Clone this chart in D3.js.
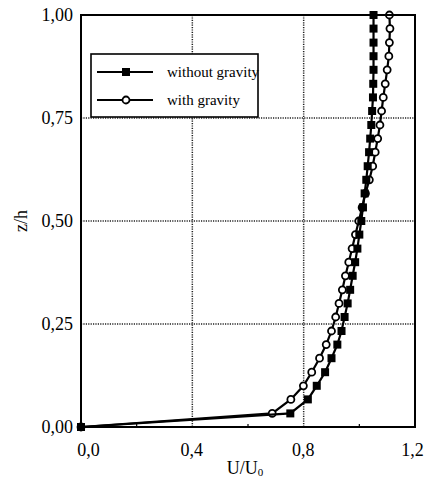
<!DOCTYPE html>
<html>
<head>
<meta charset="utf-8">
<script src="https://cdn.jsdelivr.net/npm/d3@7"></script>
<style>
  body { margin: 0; background: #fff; }
  svg text { font-family: "Liberation Serif", "DejaVu Serif", serif !important; fill: #000; }
</style>
</head>
<body>
<svg id="chart" width="427" height="478"></svg>
<script>
// Dimensionless height z/h of each measurement level
const heights = [0, 0.033, 0.067, 0.1, 0.133, 0.167, 0.2, 0.233, 0.267, 0.3,
                 0.333, 0.367, 0.4, 0.433, 0.467, 0.5, 0.533, 0.567, 0.6, 0.633,
                 0.667, 0.7, 0.733, 0.767, 0.8, 0.833, 0.867, 0.9, 0.933, 0.967, 1.0];

// Normalised velocity U/U0 at each level
const withoutGravity = [0, 0.752, 0.815, 0.847, 0.877, 0.900, 0.921, 0.936, 0.947, 0.958,
                        0.967, 0.976, 0.985, 0.993, 1.000, 1.007, 1.013, 1.019, 1.025, 1.030,
                        1.035, 1.039, 1.043, 1.046, 1.049, 1.050, 1.051, 1.051, 1.051, 1.051, 1.051];
const withGravity = [0, 0.687, 0.754, 0.799, 0.829, 0.857, 0.881, 0.900, 0.915, 0.927,
                     0.939, 0.950, 0.962, 0.974, 0.986, 0.998, 1.010, 1.022, 1.036, 1.048,
                     1.057, 1.066, 1.074, 1.080, 1.086, 1.093, 1.100, 1.106, 1.108, 1.110, 1.108];

const seriesNames = ["without gravity", "with gravity"];
const xTicks = [0, 0.4, 0.8, 1.2];
const yTicks = [0, 0.25, 0.5, 0.75, 1.0];
const xGrid = [0.4, 0.8];
const yGrid = [0.25, 0.5, 0.75];
const xMinor = [0.2, 0.6, 1.0];

const FONT = "'Liberation Serif', 'DejaVu Serif', serif";
const svg = d3.select("#chart");
const plotL = 81, plotR = 415, plotT = 15, plotB = 427;

const x = d3.scaleLinear().domain([0, 1.2]).range([plotL, plotR]);
const y = d3.scaleLinear().domain([0, 1]).range([plotB, plotT]);

const comma = f => v => d3.format(f)(v).replace(".", ",");

// Dotted grid
const grid = svg.append("g").attr("stroke", "#222").attr("stroke-width", 1.5)
  .attr("stroke-dasharray", "1.2,1.2");
grid.selectAll("line.v").data(xGrid).join("line").attr("class", "v")
  .attr("x1", d => x(d)).attr("x2", d => x(d)).attr("y1", plotT).attr("y2", plotB);
grid.selectAll("line.h").data(yGrid).join("line").attr("class", "h")
  .attr("y1", d => y(d)).attr("y2", d => y(d)).attr("x1", plotL).attr("x2", plotR);

// Minor ticks along the bottom, pointing inward
svg.append("g").selectAll("line").data(xMinor).join("line")
  .attr("x1", d => x(d)).attr("x2", d => x(d))
  .attr("y1", plotB).attr("y2", plotB - 3)
  .attr("stroke", "#000").attr("stroke-width", 1.2);

// Axes (labels only; frame drawn separately)
const xAxis = svg.append("g").attr("transform", `translate(0,${plotB})`)
  .call(d3.axisBottom(x).tickValues(xTicks).tickSize(0).tickPadding(16).tickFormat(comma(".1f")));
xAxis.attr("font-family", FONT);
xAxis.select(".domain").remove();
xAxis.selectAll("text").attr("font-size", 18).attr("font-family", FONT)
  .attr("dx", (d, i) => i === 0 ? 7 : (i === xTicks.length - 1 ? -3 : -1));

const yAxis = svg.append("g").attr("transform", `translate(${plotL},0)`)
  .call(d3.axisLeft(y).tickValues(yTicks).tickSize(0).tickPadding(8).tickFormat(comma(".2f")));
yAxis.attr("font-family", FONT);
yAxis.select(".domain").remove();
yAxis.selectAll("text").attr("font-size", 18).attr("font-family", FONT);

// Axis titles
const title = svg.append("text").attr("x", 245).attr("y", 474)
  .attr("text-anchor", "middle").attr("font-size", 18).attr("font-family", FONT);
title.append("tspan").text("U/U");
title.append("tspan").text("0").attr("font-size", 11).attr("dy", 2);

svg.append("text").attr("transform", "translate(27,221) rotate(-90)")
  .attr("text-anchor", "middle").attr("font-size", 18).attr("font-family", FONT).text("z/h");

// Profiles
const line = d3.line().x(d => x(d[0])).y(d => y(d[1]));
const ptsWith = withGravity.map((u, i) => [u, heights[i]]);
const ptsWithout = withoutGravity.map((u, i) => [u, heights[i]]);

svg.append("path").datum(ptsWith).attr("d", line)
  .attr("fill", "none").attr("stroke", "#000").attr("stroke-width", 2.2);
svg.append("g").selectAll("circle").data(ptsWith).join("circle")
  .attr("cx", d => x(d[0])).attr("cy", d => y(d[1])).attr("r", 3.5)
  .attr("fill", "#fff").attr("stroke", "#000").attr("stroke-width", 1.8);

svg.append("path").datum(ptsWithout).attr("d", line)
  .attr("fill", "none").attr("stroke", "#000").attr("stroke-width", 2.2);
svg.append("g").selectAll("rect").data(ptsWithout).join("rect")
  .attr("x", d => x(d[0]) - 4).attr("y", d => y(d[1]) - 4)
  .attr("width", 8).attr("height", 8).attr("fill", "#000");

// Frame
svg.append("rect").attr("x", plotL).attr("y", plotT)
  .attr("width", plotR - plotL).attr("height", plotB - plotT)
  .attr("fill", "none").attr("stroke", "#000").attr("stroke-width", 2);

// Legend
const legend = svg.append("g");
legend.append("rect").attr("x", 91).attr("y", 54).attr("width", 167).attr("height", 63)
  .attr("fill", "#fff").attr("stroke", "#000").attr("stroke-width", 1.6);
const rows = legend.selectAll("g.row").data(seriesNames).join("g").attr("class", "row")
  .attr("transform", (d, i) => `translate(0,${72 + i * 28})`);
rows.append("line").attr("x1", 97).attr("x2", 153).attr("y1", 0).attr("y2", 0)
  .attr("stroke", "#000").attr("stroke-width", 2);
rows.filter((d, i) => i === 0).append("rect")
  .attr("x", 122).attr("y", -4).attr("width", 8).attr("height", 8).attr("fill", "#000");
rows.filter((d, i) => i === 1).append("circle")
  .attr("cx", 126).attr("cy", 0).attr("r", 3.5)
  .attr("fill", "#fff").attr("stroke", "#000").attr("stroke-width", 1.8);
rows.append("text").attr("x", 167).attr("y", 5).attr("font-size", 15)
  .attr("font-family", FONT).text(d => d);
</script>
</body>
</html>
